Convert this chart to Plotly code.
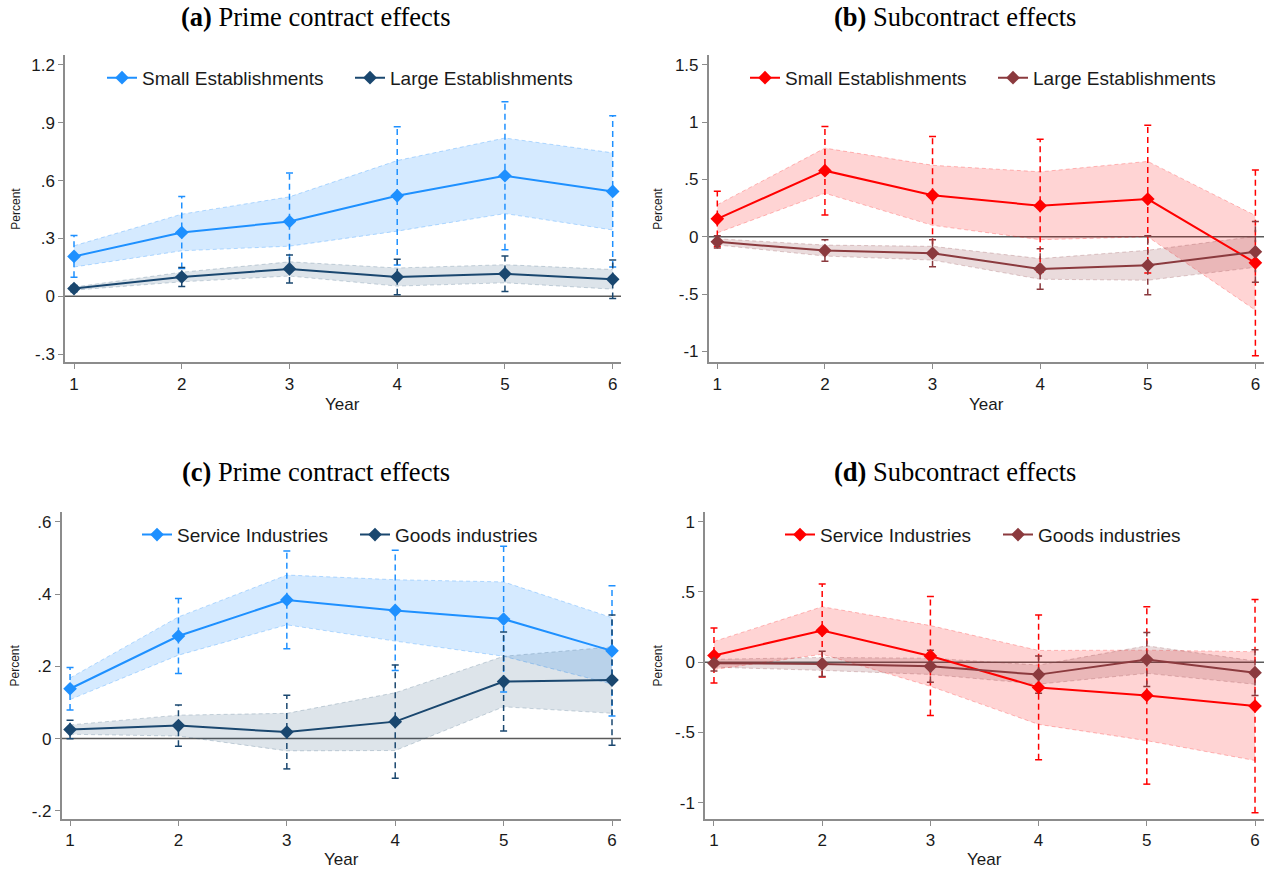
import plotly.graph_objects as go

# ---------------- data ----------------
years = [1, 2, 3, 4, 5, 6]

# (a) Prime contract effects, by establishment size
a_small_coef = [0.207, 0.331, 0.388, 0.521, 0.625, 0.544]
a_small_se = [0.055, 0.095, 0.128, 0.183, 0.196, 0.200]
a_large_coef = [0.040, 0.100, 0.142, 0.100, 0.117, 0.088]
a_large_se = [0.008, 0.025, 0.037, 0.047, 0.047, 0.051]

# (b) Subcontract effects, by establishment size
b_small_coef = [0.157, 0.577, 0.362, 0.271, 0.329, -0.227]
b_small_se = [0.123, 0.197, 0.262, 0.296, 0.329, 0.413]
b_large_coef = [-0.044, -0.120, -0.143, -0.280, -0.248, -0.131]
b_large_se = [0.027, 0.048, 0.060, 0.090, 0.131, 0.135]

# (c) Prime contract effects, by industry
c_serv_coef = [0.138, 0.284, 0.384, 0.355, 0.331, 0.243]
c_serv_se = [0.030, 0.053, 0.069, 0.085, 0.103, 0.092]
c_goods_coef = [0.025, 0.036, 0.018, 0.047, 0.158, 0.162]
c_goods_se = [0.013, 0.029, 0.052, 0.080, 0.070, 0.092]

# (d) Subcontract effects, by industry
d_serv_coef = [0.048, 0.226, 0.045, -0.179, -0.236, -0.312]
d_serv_se = [0.100, 0.169, 0.216, 0.263, 0.322, 0.387]
d_goods_coef = [-0.007, -0.012, -0.029, -0.088, 0.019, -0.074]
d_goods_se = [0.028, 0.046, 0.058, 0.068, 0.098, 0.083]

names_size = ["Small Establishments", "Large Establishments"]
names_ind = ["Service Industries", "Goods industries"]
titles = ["<b>(a)</b> Prime contract effects", "<b>(b)</b> Subcontract effects",
          "<b>(c)</b> Prime contract effects", "<b>(d)</b> Subcontract effects"]

a_ticks = [-0.3, 0, 0.3, 0.6, 0.9, 1.2]
a_ticktext = ["-.3", "0", ".3", ".6", ".9", "1.2"]
b_ticks = [-1, -0.5, 0, 0.5, 1, 1.5]
b_ticktext = ["-1", "-.5", "0", ".5", "1", "1.5"]
c_ticks = [-0.2, 0, 0.2, 0.4, 0.6]
c_ticktext = ["-.2", "0", ".2", ".4", ".6"]
d_ticks = [-1, -0.5, 0, 0.5, 1]
d_ticktext = ["-1", "-.5", "0", ".5", "1"]

# ---------------- styling ----------------
BLUE = "#1e90ff"
NAVY = "#1a476f"
RED = "#ff0000"
MAROON = "#8b3a3e"
band_fill = {BLUE: "rgba(30,144,255,0.19)", NAVY: "rgba(26,71,111,0.15)",
             RED: "rgba(255,0,0,0.17)", MAROON: "rgba(139,58,62,0.18)"}
band_edge = {BLUE: "rgba(30,144,255,0.30)", NAVY: "rgba(26,71,111,0.22)",
             RED: "rgba(255,0,0,0.25)", MAROON: "rgba(139,58,62,0.25)"}

W, H = 1270, 875
SANS = "Liberation Sans, Arial, sans-serif"
SERIF = "Liberation Serif, Times New Roman, serif"

panels = [
    dict(ax="", leg="legend", series=[(a_small_coef, a_small_se, BLUE, names_size[0]),
                                      (a_large_coef, a_large_se, NAVY, names_size[1])],
         xpx=(65, 621), ypx=(55, 363.3), xr=[0.9165, 6.077], yr=[-0.343, 1.252],
         tv=a_ticks, tt=a_ticktext, title_xy=(316, 17), pct_x=16, year_y=405,
         leg_x=340, leg_w=203),
    dict(ax="2", leg="legend2", series=[(b_small_coef, b_small_se, RED, names_size[0]),
                                        (b_large_coef, b_large_se, MAROON, names_size[1])],
         xpx=(708.7, 1264), ypx=(55, 363.3), xr=[0.92, 6.08], yr=[-1.096, 1.587],
         tv=b_ticks, tt=b_ticktext, title_xy=(955, 17), pct_x=658, year_y=405,
         leg_x=983, leg_w=203),
    dict(ax="3", leg="legend3", series=[(c_serv_coef, c_serv_se, BLUE, names_ind[0]),
                                        (c_goods_coef, c_goods_se, NAVY, names_ind[1])],
         xpx=(61.7, 621), ypx=(513, 821), xr=[0.923, 6.083], yr=[-0.223, 0.628],
         tv=c_ticks, tt=c_ticktext, title_xy=(316, 473), pct_x=15, year_y=861,
         leg_x=340, leg_w=173),
    dict(ax="4", leg="legend4", series=[(d_serv_coef, d_serv_se, RED, names_ind[0]),
                                        (d_goods_coef, d_goods_se, MAROON, names_ind[1])],
         xpx=(705, 1264), ypx=(513, 821), xr=[0.917, 6.083], yr=[-1.116, 1.07],
         tv=d_ticks, tt=d_ticktext, title_xy=(955, 473), pct_x=658, year_y=861,
         leg_x=983, leg_w=173),
]

fig = go.Figure()
layout = dict(width=W, height=H, margin=dict(l=0, r=0, t=0, b=0),
              paper_bgcolor="white", plot_bgcolor="white", showlegend=True)
annotations = []
shapes = []

for i, p in enumerate(panels):
    xa = "x" + p["ax"]
    ya = "y" + p["ax"]
    # bands (+/- 1 s.e.)
    for coef, se, col, name in p["series"]:
        hi = [c + s for c, s in zip(coef, se)]
        lo = [c - s for c, s in zip(coef, se)]
        fig.add_trace(go.Scatter(x=years, y=hi, mode="lines", xaxis=xa, yaxis=ya,
                                 line=dict(color=band_edge[col], width=1, dash="4px,3px"),
                                 showlegend=False, hoverinfo="skip"))
        fig.add_trace(go.Scatter(x=years, y=lo, mode="lines", xaxis=xa, yaxis=ya,
                                 fill="tonexty", fillcolor=band_fill[col],
                                 line=dict(color=band_edge[col], width=1, dash="4px,3px"),
                                 showlegend=False, hoverinfo="skip"))
    # error bars (95% CI), dashed with caps
    for coef, se, col, name in p["series"]:
        bx, by, cx, cy = [], [], [], []
        for yv, c, s in zip(years, coef, se):
            lo95, hi95 = c - 1.96 * s, c + 1.96 * s
            bx += [yv, yv, None]
            by += [lo95, hi95, None]
            cx += [yv, yv]
            cy += [lo95, hi95]
        fig.add_trace(go.Scatter(x=bx, y=by, mode="lines", xaxis=xa, yaxis=ya,
                                 line=dict(color=col, width=1.5, dash="6px,4px"),
                                 showlegend=False, hoverinfo="skip"))
        fig.add_trace(go.Scatter(x=cx, y=cy, mode="markers", xaxis=xa, yaxis=ya,
                                 marker=dict(symbol="line-ew", size=5,
                                             line=dict(color=col, width=1.5)),
                                 showlegend=False, hoverinfo="skip"))
    # main connected lines
    for k, (coef, se, col, name) in enumerate(p["series"]):
        extra = dict(legendwidth=p["leg_w"]) if k == 0 else {}
        fig.add_trace(go.Scatter(x=years, y=coef, mode="lines+markers", name=name,
                                 xaxis=xa, yaxis=ya, legend=p["leg"],
                                 line=dict(color=col, width=2),
                                 marker=dict(symbol="diamond", size=10.5, color=col),
                                 **extra))

    x0, x1 = p["xpx"]
    ytop, ybot = p["ypx"]
    xdom = [x0 / W, x1 / W]
    ydom = [1 - ybot / H, 1 - ytop / H]
    axis_common = dict(showline=True, linecolor="#8c8c8c", linewidth=1.5,
                       ticks="outside", ticklen=5, tickcolor="#8c8c8c", tickwidth=1.2,
                       showgrid=False, zeroline=False,
                       tickfont=dict(family=SANS, size=17, color="#1a1a1a"))
    layout["xaxis" + p["ax"]] = dict(domain=xdom, range=p["xr"], anchor=ya,
                                     tickvals=years, ticktext=[str(v) for v in years],
                                     **axis_common)
    layout["yaxis" + p["ax"]] = dict(domain=ydom, range=p["yr"], anchor=xa,
                                     tickvals=p["tv"], ticktext=p["tt"], **axis_common)
    shapes.append(dict(type="line", xref=xa + " domain", yref=ya, x0=0, x1=1, y0=0, y1=0,
                       line=dict(color="#5a5a5a", width=1.5), layer="below"))
    layout[p["leg"]] = dict(orientation="h", x=p["leg_x"] / W, xanchor="center",
                            y=1 - (ytop + 23) / H, yanchor="middle", traceorder="normal",
                            font=dict(family=SANS, size=19, color="#1a1a1a"),
                            bgcolor="rgba(0,0,0,0)", tracegroupgap=0)
    tx, ty = p["title_xy"]
    annotations.append(dict(text=titles[i], x=tx / W, xref="paper", y=1 - ty / H, yref="paper",
                            xanchor="center", yanchor="middle", showarrow=False,
                            font=dict(family=SERIF, size=26.5, color="black")))
    annotations.append(dict(text="Percent", x=p["pct_x"] / W, xref="paper",
                            y=1 - (ytop + ybot) / 2 / H, yref="paper", textangle=-90,
                            xanchor="center", yanchor="middle", showarrow=False,
                            font=dict(family=SANS, size=12, color="#1a1a1a")))
    annotations.append(dict(text="Year", x=(x0 + x1) / 2 / W, xref="paper",
                            y=1 - p["year_y"] / H, yref="paper",
                            xanchor="center", yanchor="middle", showarrow=False,
                            font=dict(family=SANS, size=17, color="#1a1a1a")))

layout["annotations"] = annotations
layout["shapes"] = shapes
fig.update_layout(**layout)
fig.write_html("out.html", config={"displayModeBar": False},
               post_script="document.body.style.margin='0';")
